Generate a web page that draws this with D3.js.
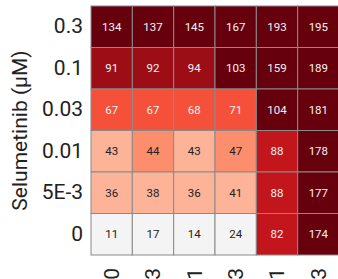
<!DOCTYPE html>
<html>
<head>
<meta charset="utf-8">
<script src="https://cdn.jsdelivr.net/npm/d3@7"></script>
<style>
	body { margin: 0; background: #fff; }
	svg { display: block; font-family: Roboto, "Liberation Sans", sans-serif; }
</style>
</head>
<body>
<div id="chart"></div>
<script>
// heatmap of selumetinib x second drug

var rowLabels = ['0.3', '0.1', '0.03', '0.01', '5E-3', '0'];
var colLabels = ['0', '0.03', '0.1', '0.3', '1', '3'];

var row03 = [134, 137, 145, 167, 193, 195];
var row01 = [91, 92, 94, 103, 159, 189];
var row003 = [67, 67, 68, 71, 104, 181];
var row001 = [43, 44, 43, 47, 88, 178];
var row5e3 = [36, 38, 36, 41, 88, 177];
var row0 = [11, 17, 14, 24, 82, 174];

var values = [row03, row01, row003, row001, row5e3, row0];

var colorBreaks = [30, 44, 60, 80, 90, 100];
var colorRange = ['#f4f4f4', '#fcb398', '#fc8d6d', '#f4503a', '#c3161c', '#9c0d15', '#67000d'];

var width = 338, height = 279;
var margin = {top: 6, right: 0, bottom: 24, left: 91};

var svg = d3.select('#chart').append('svg')
	.attr('width', width)
	.attr('height', height);

var x = d3.scaleBand().domain(colLabels).range([margin.left, width - margin.right + 1]);
var y = d3.scaleBand().domain(rowLabels).range([margin.top, height - margin.bottom]);
var color = d3.scaleThreshold().domain(colorBreaks).range(colorRange);

var cells = [];
values.forEach(function (row, i) {
	row.forEach(function (v, j) {
		cells.push({row: rowLabels[i], col: colLabels[j], value: v});
	});
});

var g = svg.append('g');

g.selectAll('rect.cell')
	.data(cells)
	.enter().append('rect')
	.attr('class', 'cell')
	.attr('x', function (d) { return x(d.col); })
	.attr('y', function (d) { return y(d.row); })
	.attr('width', x.bandwidth())
	.attr('height', y.bandwidth())
	.attr('fill', function (d) { return color(d.value); })
	.attr('stroke', '#8a8a8a')
	.attr('stroke-width', 1);

g.selectAll('text.val')
	.data(cells)
	.enter().append('text')
	.attr('class', 'val')
	.attr('x', function (d) { return x(d.col) + x.bandwidth() / 2; })
	.attr('y', function (d) { return y(d.row) + y.bandwidth() / 2; })
	.attr('dy', '0.35em')
	.attr('text-anchor', 'middle')
	.style('font-size', '11.5px')
	.attr('fill', function (d) { return d.value >= 60 ? '#f2f2f2' : '#222'; })
	.text(function (d) { return d.value; });

// y axis
var yAxis = svg.append('g')
	.attr('transform', 'translate(' + (margin.left) + ',0)')
	.call(d3.axisLeft(y).tickSize(0).tickPadding(8));
yAxis.select('.domain').remove();
yAxis.selectAll('text').style('font-size', '21px').attr('fill', '#222')
	.style('font-family', 'Roboto, "Liberation Sans", sans-serif');

// x axis, labels rotated and clipped by the window
var xAxis = svg.append('g')
	.attr('transform', 'translate(0,' + (height - margin.bottom) + ')')
	.call(d3.axisBottom(x).tickSize(0).tickPadding(0));
xAxis.select('.domain').remove();
xAxis.selectAll('text')
	.style('font-size', '21px').attr('fill', '#222')
	.style('font-family', 'Roboto, "Liberation Sans", sans-serif')
	.attr('text-anchor', 'end')
	.attr('transform', 'translate(0,13) rotate(-90)')
	.attr('x', 0).attr('y', 0).attr('dy', '0.35em');

svg.append('text')
	.attr('transform', 'translate(20,' + ((margin.top + height - margin.bottom) / 2) + ') rotate(-90)')
	.attr('text-anchor', 'middle')
	.attr('dy', '0.35em')
	.style('font-size', '21px')
	.attr('fill', '#222')
	.text('Selumetinib (μM)');
</script>
</body>
</html>
